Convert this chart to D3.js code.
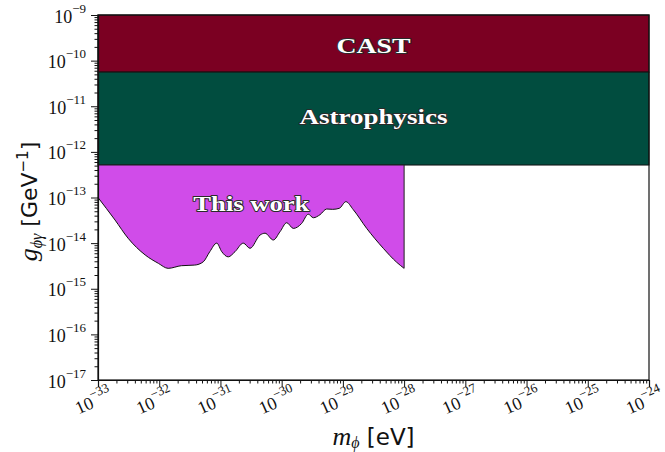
<!DOCTYPE html>
<html>
<head>
<meta charset="utf-8">
<script src="https://cdn.jsdelivr.net/npm/d3@7"></script>
<style>
  html, body { margin: 0; padding: 0; background: #fff; }
  svg { display: block; }
  .tick-lbl { font-family: "Liberation Serif", "DejaVu Serif", serif; fill: #111; }
  .band-lbl { font-family: "Liberation Serif", "DejaVu Serif", serif; font-weight: bold; fill: #fff; stroke: #2a2a2a; stroke-width: 1.8px; stroke-linejoin: round; paint-order: stroke; text-anchor: middle; dominant-baseline: central; }
</style>
</head>
<body>
<svg id="chart" width="665" height="452"></svg>
<script>
// Axis limits
const massDomain = [1e-33, 1e-24];
const couplingDomain = [1e-17, 1e-9];

// Tick exponents (labels are 10^exp)
const massTickExps = [-33, -32, -31, -30, -29, -28, -27, -26, -25, -24];
const couplingTickExps = [-17, -16, -15, -14, -13, -12, -11, -10, -9];

// Excluded bands (coupling ranges, full mass range)
const bandNames = ["CAST", "Astrophysics"];
const bandUpper = [1e-9, 5.6e-11];
const bandLower = [5.6e-11, 5.15e-13];
const bandColors = ["#7b0022", "#014d3f"];

// "This work" exclusion: lower boundary in coupling vs mass, up to the astrophysics limit
const workMass = [1.0e-33, 1.9e-33, 3.1e-33, 5.9e-33, 9.7e-33, 1.4e-32, 2.3e-32, 3.8e-32, 5.25e-32,
  6.7e-32, 8.7e-32, 1.05e-31, 1.34e-31, 1.73e-31, 2.36e-31, 3.04e-31, 4.43e-31, 5.35e-31, 7.3e-31,
  9.4e-31, 1.21e-30, 1.55e-30, 2.12e-30, 2.72e-30, 3.29e-30, 4.23e-30, 5.44e-30, 6.82e-30, 8.75e-30,
  1.12e-29, 1.48e-29, 2.45e-29, 4.57e-29, 7.57e-29, 1.0e-28];
const workCoupling = [1.0e-13, 3.2e-14, 1.28e-14, 5.5e-15, 3.6e-15, 2.8e-15, 3.2e-15, 3.3e-15, 3.9e-15,
  6.5e-15, 1.0e-14, 6.5e-15, 5.0e-15, 6.5e-15, 1.0e-14, 7.7e-15, 1.5e-14, 1.65e-14, 1.17e-14,
  1.78e-14, 2.8e-14, 2.1e-14, 2.7e-14, 4.3e-14, 3.6e-14, 4.2e-14, 5.6e-14, 5.5e-14, 5.8e-14,
  8.1e-14, 5.4e-14, 2.1e-14, 7.7e-15, 3.8e-15, 2.8e-15];
const workTop = 5.15e-13;
const workColor = "#d04ce9";
// label anchor for the region (mass, coupling)
const workLabelAt = [3.2e-31, 7.4e-14];

const svg = d3.select("#chart");
const plot = { left: 98, right: 649, top: 15, bottom: 380 };

const x = d3.scaleLog().domain(massDomain).range([plot.left, plot.right]);
const y = d3.scaleLog().domain(couplingDomain).range([plot.bottom, plot.top]);

// Bands
svg.append("g").selectAll("rect")
  .data(bandNames.map((n, i) => ({ name: n, hi: bandUpper[i], lo: bandLower[i], color: bandColors[i] })))
  .join("rect")
  .attr("x", x(massDomain[0]))
  .attr("width", x(massDomain[1]) - x(massDomain[0]))
  .attr("y", d => y(d.hi))
  .attr("height", d => y(d.lo) - y(d.hi))
  .attr("fill", d => d.color)
  .attr("stroke", "#111")
  .attr("stroke-width", 1);

// This work region
const workPts = workMass.map((m, i) => ({ m, g: workCoupling[i] }));
const area = d3.area()
  .x(d => x(d.m))
  .y0(d => y(d.g))
  .y1(y(workTop))
  .curve(d3.curveMonotoneX);
svg.append("path")
  .datum(workPts)
  .attr("d", area)
  .attr("fill", workColor);
const line = d3.line().x(d => x(d.m)).y(d => y(d.g)).curve(d3.curveMonotoneX);
svg.append("path")
  .datum(workPts)
  .attr("d", line)
  .attr("fill", "none")
  .attr("stroke", "#111")
  .attr("stroke-width", 1);
const lastM = workMass[workMass.length - 1];
svg.append("line")
  .attr("x1", x(lastM)).attr("x2", x(lastM))
  .attr("y1", y(workTop)).attr("y2", y(workCoupling[workCoupling.length - 1]))
  .attr("stroke", "#222").attr("stroke-width", 1);
svg.append("line")
  .attr("x1", x(massDomain[0])).attr("x2", x(lastM))
  .attr("y1", y(workTop)).attr("y2", y(workTop))
  .attr("stroke", "#222").attr("stroke-width", 1);

// Band labels, centred in each band
const bandLabelWidths = [74, 148];
bandNames.forEach((n, i) => {
  svg.append("text").attr("class", "band-lbl")
    .attr("x", (plot.left + plot.right) / 2)
    .attr("y", (y(bandUpper[i]) + y(bandLower[i])) / 2 + (i === 0 ? 2 : -2))
    .attr("textLength", bandLabelWidths[i]).attr("lengthAdjust", "spacingAndGlyphs")
    .style("font-size", "22px").text(n);
});
svg.append("text").attr("class", "band-lbl")
  .attr("x", x(workLabelAt[0])).attr("y", y(workLabelAt[1]))
  .attr("textLength", 116).attr("lengthAdjust", "spacingAndGlyphs")
  .style("font-size", "22px").text("This work");

// Frame
svg.append("rect")
  .attr("x", plot.left).attr("y", plot.top)
  .attr("width", plot.right - plot.left).attr("height", plot.bottom - plot.top)
  .attr("fill", "none").attr("stroke", "#111").attr("stroke-width", 1.2);

const isMajor = v => Math.abs(Math.log10(v) - Math.round(Math.log10(v))) < 1e-6;

// X axis
const xMinor = x.ticks().filter(v => !isMajor(v));
svg.append("g").attr("transform", `translate(0,${plot.bottom})`)
  .call(d3.axisBottom(x).tickValues(xMinor).tickSize(3.5).tickFormat(""))
  .call(g => g.select(".domain").remove());
const xAx = svg.append("g").attr("transform", `translate(0,${plot.bottom})`)
  .call(d3.axisBottom(x).tickValues(massTickExps.map(e => Math.pow(10, e))).tickSize(7).tickFormat(""));
xAx.select(".domain").attr("stroke", "#111").attr("stroke-width", 1.2);
xAx.selectAll(".tick").each(function (d, i) {
  const t = d3.select(this).append("text")
    .attr("class", "tick-lbl")
    .attr("fill", "#111")
    .attr("text-anchor", "end")
    .attr("transform", "translate(15,19) rotate(-24)")
    .style("font-size", "18px");
  t.append("tspan").text("10");
  t.append("tspan").attr("dy", -9).style("font-size", "13px").text("\u2212" + Math.abs(massTickExps[i]));
});

// Y axis
const yMinor = y.ticks().filter(v => !isMajor(v));
svg.append("g").attr("transform", `translate(${plot.left},0)`)
  .call(d3.axisLeft(y).tickValues(yMinor).tickSize(3.5).tickFormat(""))
  .call(g => g.select(".domain").remove());
const yAx = svg.append("g").attr("transform", `translate(${plot.left},0)`)
  .call(d3.axisLeft(y).tickValues(couplingTickExps.map(e => Math.pow(10, e))).tickSize(7).tickFormat(""));
yAx.select(".domain").attr("stroke", "#111").attr("stroke-width", 1.2);
yAx.selectAll(".tick").each(function (d, i) {
  const t = d3.select(this).append("text")
    .attr("class", "tick-lbl")
    .attr("fill", "#111")
    .attr("text-anchor", "end")
    .attr("x", -12).attr("y", 7)
    .style("font-size", "18px");
  t.append("tspan").text("10");
  t.append("tspan").attr("dy", -10).style("font-size", "13px").text("\u2212" + Math.abs(couplingTickExps[i]));
});
svg.selectAll(".tick line").attr("stroke", "#111");

// Axis titles
const xt = svg.append("text")
  .attr("x", (plot.left + plot.right) / 2).attr("y", 445)
  .attr("text-anchor", "middle").attr("fill", "#111")
  .style("font-size", "26px");
xt.append("tspan").style("font-family", "'Liberation Serif', serif").style("font-style", "italic").text("m");
xt.append("tspan").attr("dy", 3).style("font-family", "'Liberation Serif', serif").style("font-style", "italic").style("font-size", "16px").text("\u03d5");
xt.append("tspan").attr("dy", -3).style("font-family", "'DejaVu Sans', sans-serif").style("font-size", "23px").text(" [eV]");

const yt = svg.append("text")
  .attr("transform", `translate(37,${(plot.top + plot.bottom) / 2 + 4}) rotate(-90)`)
  .attr("text-anchor", "middle").attr("fill", "#111")
  .style("font-size", "26px");
yt.append("tspan").style("font-family", "'Liberation Serif', serif").style("font-style", "italic").text("g");
yt.append("tspan").attr("dy", 5).style("font-family", "'Liberation Serif', serif").style("font-style", "italic").style("font-size", "16px").text("\u03d5\u03b3");
yt.append("tspan").attr("dy", -5).style("font-family", "'DejaVu Sans', sans-serif").style("font-size", "22px").text(" [GeV");
yt.append("tspan").attr("dy", -9).style("font-family", "'DejaVu Sans', sans-serif").style("font-size", "15px").text("\u22121");
yt.append("tspan").attr("dy", 9).style("font-family", "'DejaVu Sans', sans-serif").style("font-size", "22px").text("]");
</script>
</body>
</html>
